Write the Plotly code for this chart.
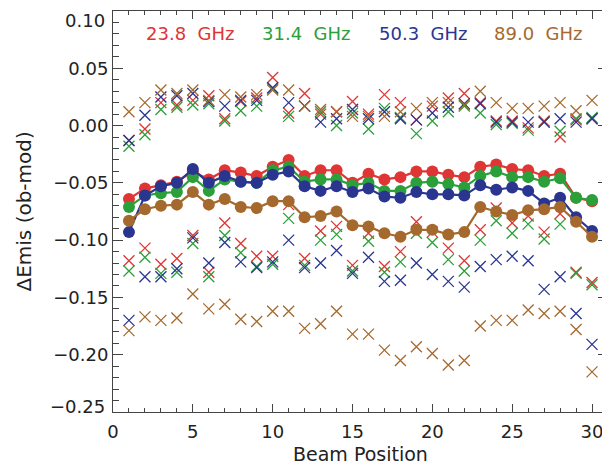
import plotly.graph_objects as go

beam = list(range(1, 31))

channels = ["23.8 GHz", "31.4 GHz", "50.3 GHz", "89.0 GHz"]
colors = ["#e03535", "#2ba03a", "#2a3590", "#a5692e"]

y_tickvals = [-0.25, -0.20, -0.15, -0.10, -0.05, 0.00, 0.05, 0.10]
x_tickvals = [0, 5, 10, 15, 20, 25, 30]

mean_238 = [-0.064, -0.055, -0.052, -0.049, -0.040, -0.047, -0.039, -0.041, -0.044, -0.036,
            -0.030, -0.044, -0.039, -0.039, -0.050, -0.042, -0.047, -0.045, -0.040, -0.040,
            -0.043, -0.045, -0.036, -0.034, -0.038, -0.039, -0.044, -0.042, -0.063, -0.066]
mean_314 = [-0.071, -0.061, -0.059, -0.058, -0.045, -0.057, -0.047, -0.049, -0.050, -0.039,
            -0.036, -0.049, -0.047, -0.047, -0.052, -0.050, -0.057, -0.057, -0.050, -0.049,
            -0.051, -0.054, -0.044, -0.040, -0.045, -0.045, -0.049, -0.046, -0.063, -0.065]
mean_503 = [-0.093, -0.061, -0.053, -0.050, -0.038, -0.050, -0.044, -0.049, -0.050, -0.043,
            -0.040, -0.053, -0.057, -0.053, -0.058, -0.055, -0.062, -0.063, -0.058, -0.060,
            -0.060, -0.061, -0.052, -0.056, -0.054, -0.057, -0.068, -0.063, -0.080, -0.092]
mean_890 = [-0.083, -0.073, -0.070, -0.069, -0.058, -0.069, -0.064, -0.071, -0.072, -0.066,
            -0.066, -0.080, -0.079, -0.075, -0.087, -0.088, -0.094, -0.097, -0.091, -0.091,
            -0.095, -0.093, -0.071, -0.075, -0.078, -0.074, -0.073, -0.071, -0.084, -0.097]

upper_238 = [-0.013, -0.003, 0.020, 0.018, 0.022, 0.026, 0.006, 0.021, 0.024, 0.042,
             0.011, 0.028, 0.010, 0.012, 0.021, 0.010, 0.027, 0.020, 0.005, 0.017,
             0.024, 0.028, 0.020, 0.004, 0.004, -0.002, 0.004, -0.010, 0.005, 0.006]
upper_314 = [-0.018, -0.008, 0.014, 0.016, 0.018, 0.019, 0.004, 0.013, 0.017, 0.032,
             0.008, 0.017, 0.012, 0.000, 0.011, -0.003, 0.015, 0.007, -0.007, 0.004,
             0.012, 0.017, 0.011, 0.001, 0.002, -0.004, 0.003, -0.005, 0.006, 0.007]
upper_503 = [-0.013, 0.009, 0.025, 0.026, 0.028, 0.021, 0.017, 0.022, 0.022, 0.033,
             0.020, 0.017, 0.003, 0.006, 0.014, 0.006, 0.012, 0.006, 0.005, 0.011,
             0.016, 0.019, 0.019, 0.003, 0.003, 0.003, 0.003, 0.006, 0.003, 0.006]
upper_890 = [0.012, 0.020, 0.031, 0.028, 0.031, 0.022, 0.027, 0.025, 0.027, 0.031,
             0.031, 0.017, 0.014, 0.012, 0.008, 0.008, 0.008, 0.012, 0.015, 0.020,
             0.020, 0.018, 0.030, 0.020, 0.015, 0.015, 0.017, 0.020, 0.013, 0.022]

lower_238 = [-0.118, -0.107, -0.121, -0.116, -0.096, -0.128, -0.085, -0.103, -0.114, -0.114,
             -0.069, -0.116, -0.092, -0.088, -0.122, -0.094, -0.123, -0.110, -0.084, -0.093,
             -0.107, -0.118, -0.091, -0.072, -0.085, -0.079, -0.093, -0.077, -0.128, -0.137]
lower_314 = [-0.127, -0.115, -0.129, -0.128, -0.103, -0.132, -0.096, -0.111, -0.123, -0.121,
             -0.081, -0.122, -0.100, -0.095, -0.127, -0.101, -0.128, -0.119, -0.094, -0.102,
             -0.117, -0.127, -0.100, -0.083, -0.094, -0.086, -0.099, -0.086, -0.129, -0.139]
lower_503 = [-0.170, -0.132, -0.132, -0.125, -0.098, -0.120, -0.102, -0.119, -0.124, -0.119,
             -0.100, -0.124, -0.120, -0.109, -0.129, -0.115, -0.136, -0.135, -0.120, -0.130,
             -0.136, -0.141, -0.123, -0.117, -0.114, -0.118, -0.143, -0.132, -0.164, -0.191]
lower_890 = [-0.179, -0.167, -0.170, -0.168, -0.147, -0.160, -0.156, -0.169, -0.171, -0.162,
             -0.162, -0.177, -0.173, -0.162, -0.182, -0.182, -0.196, -0.205, -0.193, -0.199,
             -0.209, -0.205, -0.175, -0.170, -0.170, -0.161, -0.164, -0.162, -0.178, -0.215]

means = [mean_238, mean_314, mean_503, mean_890]
uppers = [upper_238, upper_314, upper_503, upper_890]
lowers = [lower_238, lower_314, lower_503, lower_890]

fig = go.Figure()

for ch, col, up, lo in zip(channels, colors, uppers, lowers):
    for vals in (up, lo):
        fig.add_trace(go.Scatter(
            x=beam, y=vals, mode="markers", name=ch, showlegend=False,
            marker=dict(symbol="x-thin", size=11, line=dict(color=col, width=1.3)),
        ))

for ch, col, m in zip(channels, colors, means):
    fig.add_trace(go.Scatter(
        x=beam, y=m, mode="lines+markers", name=ch, showlegend=False,
        line=dict(color=col, width=2.2),
        marker=dict(symbol="circle", size=12, color=col),
    ))

label_x = [0.156, 0.389, 0.627, 0.859]
for ch, col, lx in zip(channels, colors, label_x):
    fig.add_annotation(
        x=lx, y=0.945, xref="paper", yref="paper", text=ch.replace(" ", "\u00a0\u00a0"),
        showarrow=False, font=dict(family="DejaVu Sans", size=18, color=col),
        xanchor="center", yanchor="middle",
    )

tick_font = dict(family="DejaVu Sans", size=18, color="#222222")

# y tick labels: the two end labels are nudged inside the figure, as in the reference
y_ticktext = []
for v in y_tickvals:
    y_ticktext.append("" if v in (y_tickvals[0], y_tickvals[-1]) else f"{v:.2f}".replace("-", "\u2212"))
fig.add_annotation(
    x=0, y=y_tickvals[-1], xref="paper", yref="y", text=f"{y_tickvals[-1]:.2f}",
    showarrow=False, xanchor="right", yanchor="middle", xshift=-6, yshift=-9, font=tick_font,
)
fig.add_annotation(
    x=0, y=y_tickvals[0], xref="paper", yref="y", text=f"{y_tickvals[0]:.2f}".replace("-", "\u2212"),
    showarrow=False, xanchor="right", yanchor="middle", xshift=-6, yshift=6, font=tick_font,
)

fig.add_annotation(
    x=0, y=0.5, xref="paper", yref="paper", text="ΔEmis (ob-mod)", showarrow=False,
    textangle=-90, xanchor="center", yanchor="middle", xshift=-90,
    font=dict(family="DejaVu Sans", size=20, color="#222222"),
)
fig.add_annotation(
    x=0.5, y=0, xref="paper", yref="paper", text="Beam Position", showarrow=False,
    xanchor="center", yanchor="bottom", yshift=-55,
    font=dict(family="DejaVu Sans", size=19, color="#222222"),
)

axis_common = dict(
    showline=True, linecolor="#444444", linewidth=1, mirror="ticks",
    ticks="inside", tickcolor="#444444", showgrid=False, zeroline=False,
    automargin=False, tickfont=tick_font,
)

fig.update_xaxes(
    range=[0, 31], tickvals=x_tickvals, ticklen=8, ticklabelstandoff=3,
    minor=dict(dtick=1, tick0=0, ticks="inside", ticklen=4, tickcolor="#444444"),
    **axis_common,
)
fig.update_yaxes(
    range=[-0.25, 0.10], tickvals=y_tickvals, ticktext=y_ticktext, ticklen=10,
    minor=dict(dtick=0.01, tick0=0, ticks="inside", ticklen=6, tickcolor="#444444"),
    **axis_common,
)

# the page adds an 8 px body margin, so the figure is sized to fit the window
fig.update_layout(
    width=602, height=460,
    margin=dict(l=105, r=2, t=3, b=56),
    paper_bgcolor="white", plot_bgcolor="white",
    showlegend=False,
)

fig.write_html("out.html")
